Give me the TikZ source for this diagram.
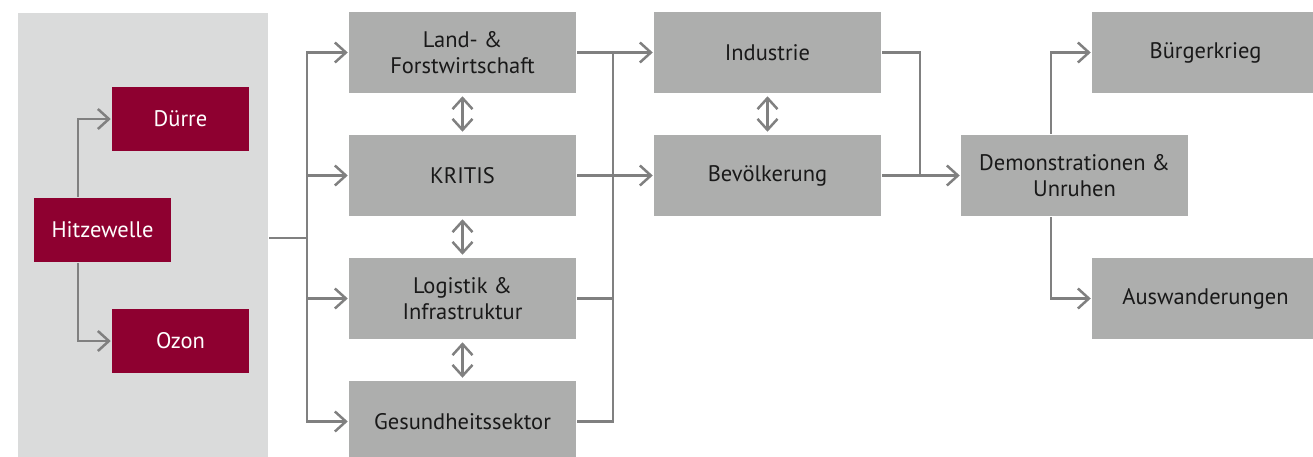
\documentclass[tikz,border=0pt]{standalone}
\usepackage{fontspec}
\setmainfont{PT Sans}
\usetikzlibrary{positioning, calc, arrows.meta}
\tikzset{>={Straight Barb[length=11pt, width=20pt]}}
\definecolor{panelgray}{RGB}{218,219,219}
\definecolor{boxgray}{RGB}{173,174,173}
\definecolor{linegray}{RGB}{128,128,128}
\definecolor{heatred}{RGB}{142,0,48}

\begin{document}
\begin{tikzpicture}[x=1pt, y=-1pt, line width=2.5pt]

\tikzstyle{panel}=[fill=panelgray, minimum width=250, minimum height=460, inner sep=0]
\tikzstyle{hazard}=[fill=heatred, text=white, minimum width=137, minimum height=64, inner sep=0, font=\fontsize{22.5}{26}\selectfont]
\tikzstyle{effect}=[fill=boxgray, text=black!90, minimum width=227, minimum height=81, inner sep=0, align=center, font=\fontsize{22.5}{26}\selectfont]
\tikzstyle{link}=[draw=linegray]

\useasboundingbox (0, 0) rectangle (1313, 456);
\clip (0, 0) rectangle (1313, 456);

% hazards
\node [panel] (panel) at (143, 243) {};
\node [hazard] (hitze) at (102.5, 230) {Hitzewelle};
\node [hazard] (duerre) at ($(hitze) + (78, -111)$) {Dürre};
\node [hazard] (ozon) at ($(hitze) + (78, 111)$) {Ozon};

\coordinate (split-h) at (78, 230);
\draw [link, ->] (split-h |- hitze.north) |- (duerre.west);
\draw [link, ->] (split-h |- hitze.south) |- (ozon.west);

% sectors
\node [effect] (land) at (462.5, 52.5) {Land- \&\\Forstwirtschaft};
\node [effect] (kritis) at ($(land) + (0, 123)$) {KRITIS};
\node [effect] (logistik) at ($(kritis) + (0, 123)$) {Logistik \&\\Infrastruktur};
\node [effect] (gesund) at ($(logistik) + (0, 123)$) {Gesundheitssektor};

\coordinate (split-l) at (307, 238);
\draw [link] (panel.east |- split-l) -- (split-l);
\foreach \s in {land, kritis, logistik, gesund}
{
	\draw [link, ->] (split-l) |- (\s.west);
}
\draw [link, <->, shorten <=2pt, shorten >=2pt] (land) -- (kritis);
\draw [link, <->, shorten <=2pt, shorten >=2pt] (kritis) -- (logistik);
\draw [link, <->, shorten <=2pt, shorten >=2pt] (logistik) -- (gesund);

% society
\node [effect] (industrie) at ($(land) + (305, 0)$) {Industrie};
\node [effect] (bevoelkerung) at ($(industrie) + (0, 123)$) {Bevölkerung};

\coordinate (join-r) at (613, 52.5);
\draw [link] (gesund.east) -| (join-r);
\draw [link] (logistik.east) -- (logistik.east -| join-r);
\draw [link, ->] (land.east) -- (industrie.west);
\draw [link, ->] (kritis.east) -- (bevoelkerung.west);
\draw [link, <->, shorten <=2pt, shorten >=2pt] (industrie) -- (bevoelkerung);

% consequences
\node [effect] (demo) at ($(bevoelkerung) + (307, 0)$) {Demonstrationen \&\\Unruhen};
\node [effect] (buerger) at ($(demo) + (131, -123)$) {Bürgerkrieg};
\node [effect] (auswand) at ($(demo) + (131, 123)$) {Auswanderungen};

\coordinate (join-m) at (920, 175.5);
\draw [link] (industrie.east) -| (join-m);
\draw [link, ->] (bevoelkerung.east) -- (demo.west);

\coordinate (split-d) at (1051, 175.5);
\draw [link, ->] (split-d |- demo.north) |- (buerger.west);
\draw [link, ->] (split-d |- demo.south) |- (auswand.west);

\end{tikzpicture}
\end{document}
